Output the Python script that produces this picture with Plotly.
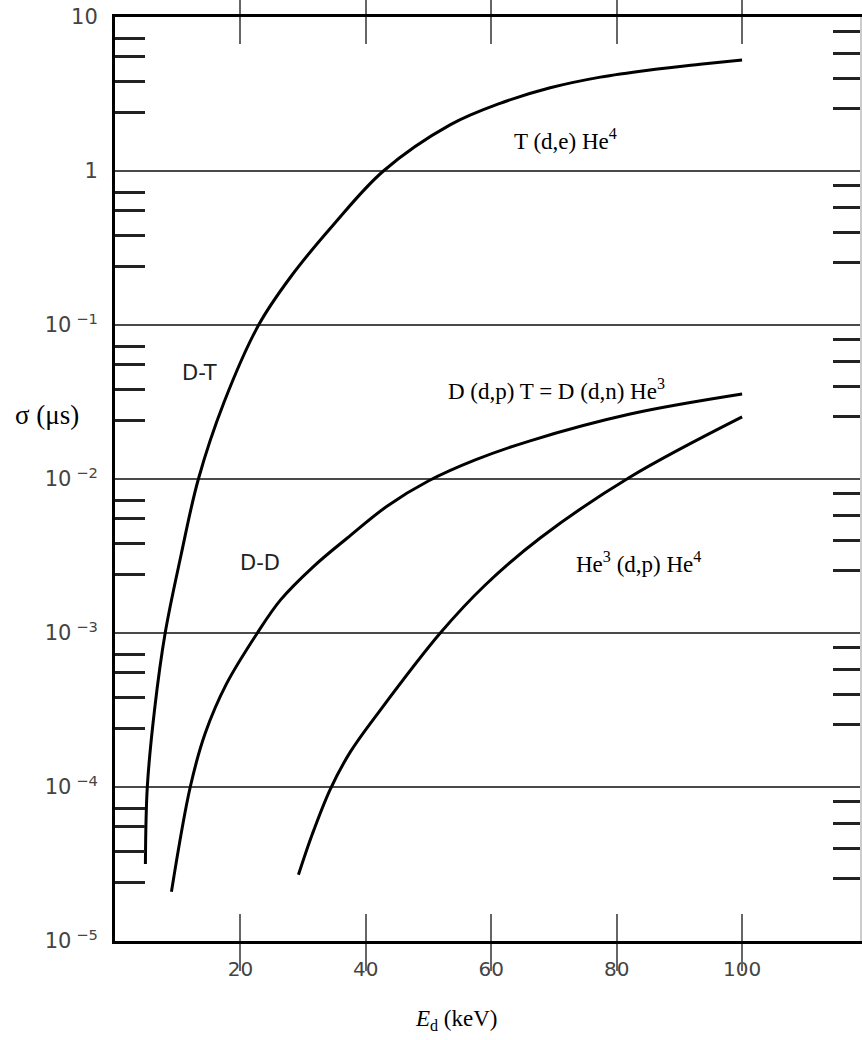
import math
import plotly.graph_objects as go

# D-T reaction cross section
dt_x = [4.85, 5.15, 6.3, 8.0, 10.5, 13.3, 17.4, 22.9, 28.0, 34.8, 42.8, 53.5, 61.4, 69.4, 77.4, 85.3, 93.3, 100]
dt_y = [3.16e-5, 1.0e-4, 3.16e-4, 1.0e-3, 3.16e-3, 1.0e-2, 3.16e-2, 0.10, 0.205, 0.446, 1.0,
        2.0, 2.75, 3.47, 4.07, 4.53, 4.93, 5.26]

# D-D reaction cross section
dd_x = [9.0, 12.0, 14.4, 17.77, 22.7, 26.4, 31.6, 37.05, 43.43, 49.96, 57.45, 66.2, 82.15, 100]
dd_y = [2.09e-5, 1.0e-4, 2.24e-4, 4.67e-4, 1.0e-3, 1.64e-3, 2.69e-3, 4.14e-3, 6.68e-3,
        9.70e-3, 1.33e-2, 1.77e-2, 2.64e-2, 3.56e-2]

# He3-D reaction cross section
he_x = [29.25, 31.47, 34.34, 37.53, 42.31, 51.87, 59.04, 67.8, 82.15, 100]
he_y = [2.69e-5, 4.95e-5, 9.7e-5, 1.69e-4, 3.16e-4, 1.0e-3, 2.05e-3, 4.14e-3, 1.03e-2, 2.53e-2]

x_ticks = [20, 40, 60, 80, 100]
y_ticks = [1e-5, 1e-4, 1e-3, 1e-2, 1e-1, 1, 10]
y_ticktext = ["10<sup> −5</sup>", "10<sup> −4</sup>", "10<sup> −3</sup>", "10<sup> −2</sup>",
              "10<sup> −1</sup>", "1", "10"]
left_minor_mult = [0.73, 0.55, 0.38, 0.24]
right_minor_mult = [0.81, 0.58, 0.40, 0.256]
decades = [10, 1, 0.1, 0.01, 1e-3, 1e-4]
left_minor = [d * m for d in decades for m in left_minor_mult]
right_minor = [d * m for d in decades for m in right_minor_mult]

fig = go.Figure()
line_style = dict(color="black", width=3, shape="spline", smoothing=1.0)
for xs, ys in [(dt_x, dt_y), (dd_x, dd_y), (he_x, he_y)]:
    fig.add_trace(go.Scatter(x=xs, y=ys, mode="lines", line=line_style,
                             showlegend=False, hoverinfo="skip"))
# carrier for the right-hand axis
fig.add_trace(go.Scatter(x=[None], y=[None], yaxis="y2", mode="lines",
                         showlegend=False, hoverinfo="skip"))

serif = "Liberation Serif"
stencil = "DejaVu Sans"
labels = [
    (71.8, 1.59, "T (d,e) He<sup>4</sup>", serif, 23, "black"),
    (70.4, 0.0379, "D (d,p) T = D (d,n) He<sup>3</sup>", serif, 23, "black"),
    (83.4, 2.85e-3, "He<sup>3</sup> (d,p) He<sup>4</sup>", serif, 23, "black"),
    (13.5, 0.0488, "D-T", stencil, 21, "#222"),
    (23.2, 2.85e-3, "D-D", stencil, 21, "#222"),
]
for x, y, t, f, s, c in labels:
    fig.add_annotation(x=x, y=math.log10(y), text=t, showarrow=False,
                       font=dict(family=f, size=s, color=c),
                       xanchor="center", yanchor="middle")

fig.add_annotation(xref="paper", yref="paper", x=0.459, y=-0.0855,
                   xanchor="center", yanchor="middle",
                   text="<i>E</i><sub>d</sub> (keV)", showarrow=False,
                   font=dict(family=serif, size=23, color="black"))
fig.add_annotation(xref="paper", yref="paper", x=-0.091, y=0.569,
                   xanchor="center", yanchor="middle",
                   text="σ (μs)", showarrow=False,
                   font=dict(family=serif, size=27, color="black"))

fig.update_layout(
    width=862, height=1040,
    margin=dict(l=115, r=2, t=17, b=99),
    paper_bgcolor="white", plot_bgcolor="white",
    xaxis=dict(range=[0, 118.8], tickvals=x_ticks, ticks="inside", ticklen=27,
               tickwidth=2, tickcolor="#666", showgrid=False, zeroline=False,
               showline=True, linecolor="black", linewidth=3, mirror="allticks",
               ticklabelstandoff=8,
               tickfont=dict(family=stencil, size=20, color="#444")),
    yaxis=dict(type="log", range=[-5, 1], tickvals=y_ticks, ticktext=y_ticktext,
               ticks="", ticklabelstandoff=10, showgrid=True, gridcolor="#4a4a4a",
               gridwidth=2, showline=True, linecolor="black", linewidth=3,
               tickfont=dict(family=stencil, size=21, color="#444"),
               minor=dict(tickvals=left_minor, ticks="inside", ticklen=30,
                          tickwidth=2.5, tickcolor="#222", showgrid=False)),
    yaxis2=dict(type="log", range=[-5, 1], overlaying="y", side="right",
                showticklabels=False, showgrid=False, tickvals=[], ticks="",
                showline=True, linecolor="#ccc", linewidth=2, zeroline=False,
                minor=dict(tickvals=right_minor, ticks="inside", ticklen=27,
                           tickwidth=2.5, tickcolor="#222", showgrid=False)),
)

fig.write_html("out.html")
